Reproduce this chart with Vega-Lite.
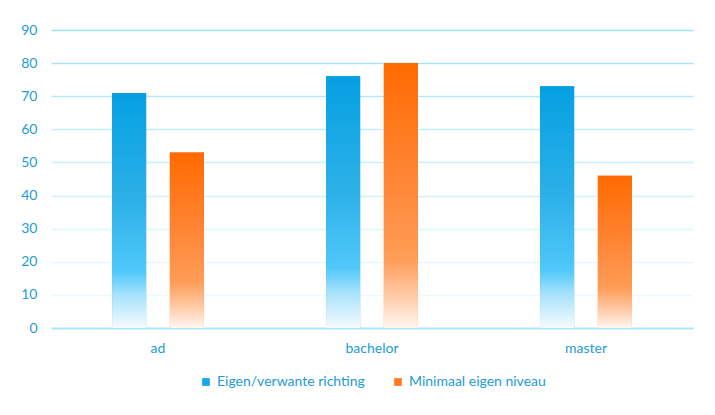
{
  "$schema": "https://vega.github.io/schema/vega-lite/v6.json",
  "width": 642,
  "height": 298,
  "autosize": {"type": "none"},
  "padding": {"left": 51, "top": 30, "right": 22, "bottom": 87},
  "background": "#ffffff",
  "data": {
    "values": [
      {"opleiding": "ad", "reeks": "Eigen/verwante richting", "pct": 71},
      {"opleiding": "ad", "reeks": "Minimaal eigen niveau", "pct": 53},
      {"opleiding": "bachelor", "reeks": "Eigen/verwante richting", "pct": 76},
      {"opleiding": "bachelor", "reeks": "Minimaal eigen niveau", "pct": 80},
      {"opleiding": "master", "reeks": "Eigen/verwante richting", "pct": 73},
      {"opleiding": "master", "reeks": "Minimaal eigen niveau", "pct": 46}
    ]
  },
  "encoding": {
    "x": {
      "field": "opleiding",
      "type": "nominal",
      "sort": ["ad", "bachelor", "master"],
      "scale": {"paddingInner": 0.46, "paddingOuter": 0.23},
      "axis": {
        "title": null,
        "labelAngle": 0,
        "ticks": false,
        "labelPadding": 13,
        "labelFontSize": 14,
        "labelColor": "#1e9bd7",
        "labelFont": "Lato",
        "domainColor": "#a8e6f8",
        "domainWidth": 2.2,
        "grid": false
      }
    },
    "xOffset": {
      "field": "reeks",
      "type": "nominal",
      "sort": ["Eigen/verwante richting", "Minimaal eigen niveau"],
      "scale": {"paddingInner": 0.41, "paddingOuter": 0.205}
    },
    "y": {
      "field": "pct",
      "type": "quantitative",
      "scale": {"domain": [0, 90], "nice": false},
      "axis": {
        "title": null,
        "values": [0, 10, 20, 30, 40, 50, 60, 70, 80, 90],
        "domain": false,
        "ticks": false,
        "labelPadding": 14,
        "labelFontSize": 14,
        "labelColor": "#1e9bd7",
        "labelFont": "Lato",
        "gridWidth": 1.4,
        "gridColor": {
          "condition": [
            {"test": "datum.value >= 90", "value": "#9fe3f8"},
            {"test": "datum.value >= 80", "value": "#a6e5f8"},
            {"test": "datum.value >= 70", "value": "#b3e9f9"},
            {"test": "datum.value >= 60", "value": "#bfedfa"},
            {"test": "datum.value >= 50", "value": "#c8f0fb"},
            {"test": "datum.value >= 40", "value": "#d2f2fb"},
            {"test": "datum.value >= 30", "value": "#dbf5fc"},
            {"test": "datum.value >= 20", "value": "#e3f7fd"},
            {"test": "datum.value >= 10", "value": "#ebf9fe"}
          ],
          "value": "#ffffff"
        }
      }
    }
  },
  "layer": [
    {
      "mark": {"type": "bar", "strokeWidth": 0},
      "encoding": {
        "color": {
          "field": "reeks",
          "type": "nominal",
          "scale": {
            "domain": ["Eigen/verwante richting", "Minimaal eigen niveau"],
            "range": ["#1aa8e4", "#ff7a22"]
          },
          "legend": {
            "title": null,
            "orient": "bottom",
            "direction": "horizontal",
            "offset": 20,
            "symbolType": "square",
            "symbolSize": 60,
            "symbolStrokeWidth": 0,
            "labelFontSize": 14,
            "labelColor": "#1e9bd7",
            "labelFont": "Lato",
            "labelOffset": 4,
            "columnPadding": 26,
            "labelLimit": 300
          }
        }
      }
    },
    {
      "transform": [{"filter": "datum.reeks === 'Eigen/verwante richting'"}],
      "mark": {
        "type": "bar",
        "strokeWidth": 0,
        "fill": {
          "gradient": "linear", "x1": 0, "y1": 0, "x2": 0, "y2": 1,
          "stops": [
            {"offset": 0, "color": "#05a0e2"},
            {"offset": 0.45, "color": "#2cb0e8"},
            {"offset": 0.76, "color": "#50c8fa"},
            {"offset": 0.86, "color": "#a8e2fb"},
            {"offset": 1, "color": "#f4fbff"}
          ]
        }
      }
    },
    {
      "transform": [{"filter": "datum.reeks === 'Minimaal eigen niveau'"}],
      "mark": {
        "type": "bar",
        "strokeWidth": 0,
        "fill": {
          "gradient": "linear", "x1": 0, "y1": 0, "x2": 0, "y2": 1,
          "stops": [
            {"offset": 0, "color": "#ff6a00"},
            {"offset": 0.45, "color": "#ff8636"},
            {"offset": 0.74, "color": "#ff9d58"},
            {"offset": 0.86, "color": "#ffc49c"},
            {"offset": 1, "color": "#fff6f0"}
          ]
        }
      }
    }
  ],
  "config": {
    "view": {"stroke": null},
    "legend": {"layout": {"bottom": {"anchor": "middle"}}}
  }
}
